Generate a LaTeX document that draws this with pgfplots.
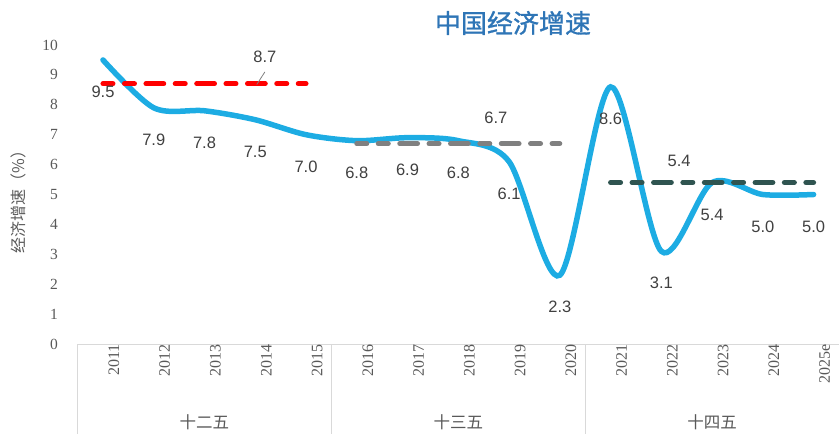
\documentclass[border=0pt]{standalone}
\usepackage{pgfplots}
\pgfplotsset{compat=1.18}
\usepackage{fontspec}
\setmainfont{Liberation Sans}
\newfontfamily\cjk{Noto Sans CJK SC}
\newfontfamily\cjktitle[FakeBold=1.2]{Noto Sans CJK SC}
\newfontfamily\tnr{Liberation Serif}
\definecolor{lineblue}{RGB}{29,172,227}
\definecolor{titleblue}{RGB}{46,117,182}
\definecolor{dkgreen}{RGB}{47,84,80}
\definecolor{txtgray}{RGB}{64,64,64}
\definecolor{axgray}{RGB}{89,89,89}
\definecolor{sepgray}{RGB}{217,217,217}
\definecolor{dashgray}{RGB}{128,128,128}
\pgfplotstableread{
x y label
0 9.5 9.5
1 7.9 7.9
2 7.8 7.8
3 7.5 7.5
4 7.0 7.0
5 6.8 6.8
6 6.9 6.9
7 6.8 6.8
8 6.1 6.1
9 2.3 2.3
10 8.6 8.6
11 3.1 3.1
12 5.4 5.4
13 5.0 5.0
14 5.0 5.0
}\gdp
\tikzset{avgline/.style={line width=5pt, line cap=round, dash pattern=on 17.76pt off 11.5pt on 10pt off 11.5pt, dash phase=7.76pt, no markers}}
\begin{document}
\begin{tikzpicture}
\begin{axis}[
 at={(0,0)}, anchor=south west,
 scale only axis, width=761.4pt, height=299pt,
 xmin=-0.5, xmax=14.5, ymin=0, ymax=10,
 clip=false,
 axis x line*=bottom, axis y line*=left,
 x axis line style={draw=sepgray, line width=1pt, -},
 y axis line style={draw=none},
 major tick length=0pt,
 xtick={0,...,14},
 xticklabels={2011,2012,2013,2014,2015,2016,2017,2018,2019,2020,2021,2022,2023,2024,2025e},
 xticklabel style={rotate=90, anchor=east, inner sep=0pt, yshift=-11pt, font=\tnr\fontsize{16}{18}\selectfont, text=axgray},
 ytick={0,1,...,10},
 yticklabel style={anchor=east, inner sep=0pt, xshift=-19.6pt, font=\tnr\fontsize{15.5}{18}\selectfont, text=axgray},
 /pgf/number format/assume math mode=true,
]
\addplot[lineblue, line width=5.5pt, line cap=round, smooth, no markers,
  nodes near coords, point meta=explicit symbolic,
  every node near coord/.append style={anchor=center, yshift=-32pt, font=\fontsize{16.5}{18}\selectfont, text=txtgray}]
  table[x=x, y=y, meta=label] {\gdp};
\addplot[red, avgline] coordinates {(0,8.7) (4,8.7)};
\addplot[dashgray, avgline] coordinates {(5,6.7) (9,6.7)};
\addplot[dkgreen, avgline] coordinates {(10,5.4) (14,5.4)};
\node[font=\fontsize{16.5}{18}\selectfont, text=txtgray] at (axis cs:3.19,9.6) {8.7};
\draw[dashgray, line width=0.8pt] (axis cs:3.19,9.1) -- (axis cs:3.03,8.68);
\node[font=\fontsize{16.5}{18}\selectfont, text=txtgray] at (axis cs:7.74,7.56) {6.7};
\node[font=\fontsize{16.5}{18}\selectfont, text=txtgray] at (axis cs:11.35,6.12) {5.4};
\draw[sepgray, line width=1pt] (axis cs:-0.5,0) -- ([yshift=-90pt]axis cs:-0.5,0);
\draw[sepgray, line width=1pt] (axis cs:4.5,0) -- ([yshift=-90pt]axis cs:4.5,0);
\draw[sepgray, line width=1pt] (axis cs:9.5,0) -- ([yshift=-90pt]axis cs:9.5,0);
\node[font=\cjk\fontsize{16.5}{18}\selectfont, text=axgray] at ([yshift=-78pt]axis cs:2,0) {十二五};
\node[font=\cjk\fontsize{16.5}{18}\selectfont, text=axgray] at ([yshift=-78pt]axis cs:7,0) {十三五};
\node[font=\cjk\fontsize{16.5}{18}\selectfont, text=axgray] at ([yshift=-78pt]axis cs:12,0) {十四五};
\end{axis}
\node[font=\cjktitle\fontsize{26}{28}\selectfont, text=titleblue] at (435.4pt,321pt) {中国经济增速};
\node[font=\cjk\fontsize{16}{18}\selectfont, text=axgray, rotate=90] at (-59.6pt,146pt) {经济增速（\%）};
\pgfresetboundingbox
\path[use as bounding box] (-77.6pt,-90pt) rectangle (761.4pt,344pt);
\end{tikzpicture}
\end{document}
